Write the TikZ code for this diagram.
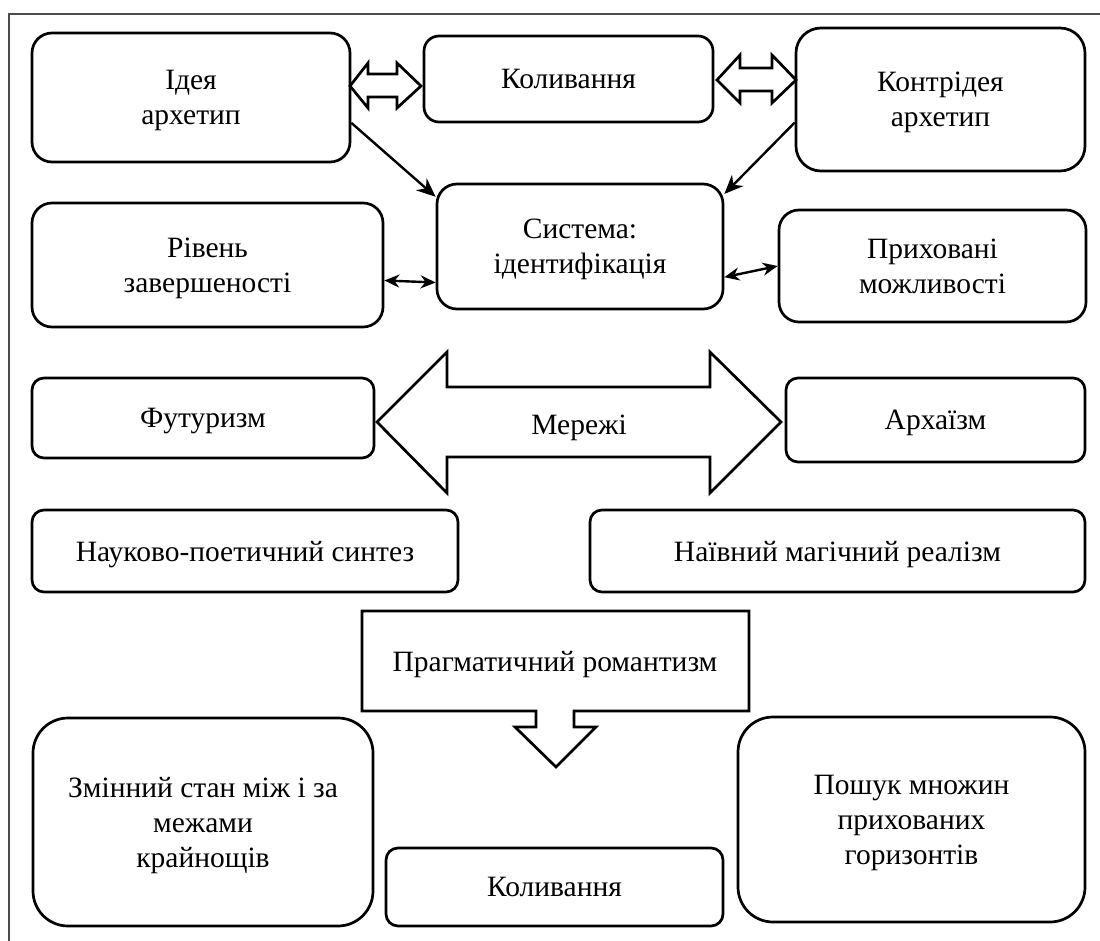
\documentclass[tikz,border=0pt]{standalone}
\usepackage{fontspec}
\setmainfont{Liberation Serif}
\usepackage{tikz}
\usetikzlibrary{arrows.meta}

\begin{document}
\begin{tikzpicture}[x=1pt,y=-1pt,
    box/.style={draw,line width=2.7pt,align=center,inner sep=0pt,text depth=0pt,font=\fontsize{29.5}{35}\selectfont},
    label/.style={align=center,inner sep=0pt,text depth=0pt,font=\fontsize{29.5}{35}\selectfont},
    link/.style={line width=2.4pt,-{Stealth[length=19pt,width=16pt]}},
    twoway/.style={line width=2.4pt,{Stealth[length=15pt,width=13pt]}-{Stealth[length=15pt,width=13pt]}},
    hollow/.style={draw,line width=2.7pt,line join=miter}]
  \useasboundingbox (0,0) rectangle (1100,941);
  \draw[black!70,line width=1.5pt] (1100,14) -- (9,14) -- (9,941);
  \node[box,minimum width=318pt,minimum height=129pt,rounded corners=20pt] (idea) at (191,97.5) {Ідея\\архетип};
  \node[box,minimum width=289pt,minimum height=86pt,rounded corners=15pt] (osc1) at (568.5,79) {Коливання};
  \node[box,minimum width=289pt,minimum height=143pt,rounded corners=25pt] (contra) at (940.5,99.5) {Контрідея\\архетип};
  \node[box,minimum width=286pt,minimum height=125pt,rounded corners=20pt] (sys) at (580,246.5) {Система:\\ідентифікація};
  \node[box,minimum width=351pt,minimum height=124pt,rounded corners=20pt] (level) at (207.5,265) {Рівень\\завершеності};
  \node[box,minimum width=307pt,minimum height=112pt,rounded corners=20pt] (hidden) at (932.5,266) {Приховані\\можливості};
  \node[box,minimum width=342pt,minimum height=80pt,rounded corners=12pt] (futur) at (203,418) {Футуризм};
  \node[box,minimum width=299pt,minimum height=84pt,rounded corners=12pt] (archa) at (935.5,420) {Архаїзм};
  \node[box,minimum width=426pt,minimum height=82pt,rounded corners=12pt] (synth) at (245,551) {Науково-поетичний синтез};
  \node[box,minimum width=495pt,minimum height=82pt,rounded corners=12pt] (naive) at (837.5,551) {Наївний магічний реалізм};
  \node[box,minimum width=340pt,minimum height=208pt,rounded corners=35pt] (shift) at (203,822) {Змінний стан між і за\\межами\\крайнощів};
  \node[box,minimum width=337pt,minimum height=78pt,rounded corners=12pt] (osc2) at (554.5,887) {Коливання};
  \node[box,minimum width=347pt,minimum height=205pt,rounded corners=35pt] (search) at (911.5,819.5) {Пошук множин\\прихованих\\горизонтів};
  \draw[hollow] (350,86) -- (368,63) -- (368,74) -- (397,74) -- (397,63) -- (421,86)
    -- (397,108) -- (397,97) -- (368,97) -- (368,108) -- cycle;
  \draw[hollow] (717,80) -- (740,55) -- (740,68) -- (772,68) -- (772,55) -- (796,80)
    -- (772,103) -- (772,91) -- (740,91) -- (740,103) -- cycle;
  \draw[hollow] (377,422) -- (447,352) -- (447,387) -- (710,387) -- (710,352) -- (781,422)
    -- (710,493) -- (710,457) -- (447,457) -- (447,493) -- cycle;
  \node[label] (net) at (579,425) {Мережі};
  \draw[hollow] (362,611) -- (749,611) -- (749,711) -- (574,711) -- (574,727) -- (596,727)
    -- (556,767) -- (515,727) -- (536,727) -- (536,711) -- (362,711) -- cycle;
  \node[label] (prag) at (555,661) {Прагматичний романтизм};
  \draw[link] (idea.-9) -- (sys.161);
  \draw[link] (contra.189) -- (sys.20);
  \draw[twoway] (level.-5) -- (sys.194);
  \draw[twoway] (sys.-12) -- (hidden.180);
\end{tikzpicture}
\end{document}
